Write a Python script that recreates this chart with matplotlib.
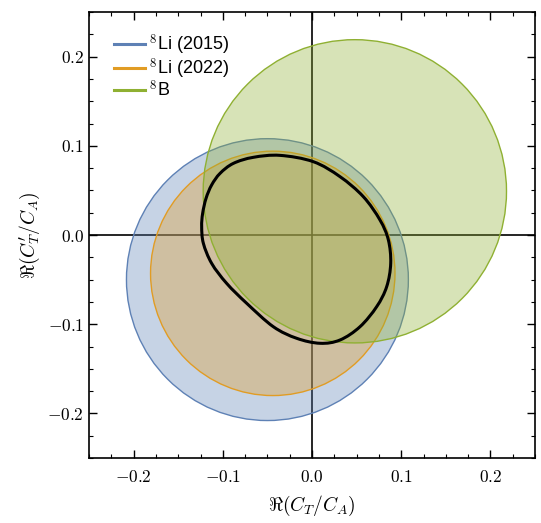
import numpy as np
import matplotlib
matplotlib.use('Agg')
import matplotlib.pyplot as plt
from matplotlib.patches import Circle, PathPatch
from matplotlib.path import Path
from matplotlib.colors import to_rgba
from matplotlib.ticker import MultipleLocator, FuncFormatter

plt.rcParams['mathtext.fontset'] = 'cm'
plt.rcParams['font.family'] = ['Liberation Sans', 'DejaVu Sans']

# circles: name, centre x, centre y, radius
names = [r'$^{\mathsf{8}}$Li (2015)', r'$^{\mathsf{8}}$Li (2022)', r'$^{\mathsf{8}}$B']
cx = [-0.050, -0.044, 0.048]
cy = [-0.050, -0.043, 0.049]
rad = [0.158, 0.137, 0.170]
cols = ['#5E81B5', '#E19C24', '#8FB032']

# combined contour
cont_x = [-0.1237, -0.1226, -0.1188, -0.1125, -0.1031, -0.0882, -0.0658, -0.0359,
          0.0015, 0.0314, 0.0575, 0.0762, 0.0856, 0.0882, 0.0837, 0.0725, 0.0538,
          0.0314, 0.0090, -0.0172, -0.0434, -0.0732, -0.0957, -0.1125, -0.1218]
cont_y = [0.0093, 0.0243, 0.0411, 0.0561, 0.0691, 0.0803, 0.0871, 0.0893,
          0.0822, 0.0654, 0.0430, 0.0168, -0.0056, -0.0318, -0.0579, -0.0803, -0.1028,
          -0.1177, -0.1214, -0.1158, -0.1028, -0.0766, -0.0542, -0.0318, -0.0093]

fig = plt.figure(figsize=(5.41, 5.23), dpi=100)
ax = fig.add_axes([0.1645, 0.1243, 0.8245, 0.8527])

ax.axhline(0, color='black', lw=1.2, zorder=1)
ax.axvline(0, color='black', lw=1.2, zorder=1)

for i in range(3):
    c = Circle((cx[i], cy[i]), rad[i], facecolor=to_rgba(cols[i], 0.35),
               edgecolor=cols[i], lw=1.0, zorder=2 + i)
    ax.add_patch(c)
    ax.plot([], [], color=cols[i], lw=2.2, label=names[i])

# closed smooth path through the contour points (catmull-rom as bezier)
P = np.column_stack([cont_x, cont_y])
n = len(P)
verts = [P[0]]
codes = [Path.MOVETO]
for i in range(n):
    p0, p1, p2, p3 = P[i - 1], P[i], P[(i + 1) % n], P[(i + 2) % n]
    verts += [p1 + (p2 - p0) / 6, p2 - (p3 - p1) / 6, p2]
    codes += [Path.CURVE4] * 3
ax.add_patch(PathPatch(Path(verts, codes), fill=False, edgecolor='black',
                       lw=2.2, zorder=6))

ax.set_xlim(-0.25, 0.25)
ax.set_ylim(-0.25, 0.25)
for a in (ax.xaxis, ax.yaxis):
    a.set_major_locator(MultipleLocator(0.1))
    a.set_minor_locator(MultipleLocator(0.025))
    a.set_major_formatter(FuncFormatter(lambda v, p: r'$%.1f$' % (0 if abs(v) < 1e-9 else v)))
ax.tick_params(which='both', direction='in', top=True, right=True, labelsize=12.5)
ax.tick_params(which='major', length=6, width=1)
ax.tick_params(which='minor', length=3, width=0.8)
ax.tick_params(axis='x', pad=8)
for s in ax.spines.values():
    s.set_linewidth(1.2)

ax.set_xlabel(r'$\Re(C_T/C_A)$', fontsize=14, labelpad=6)
ax.set_ylabel(r"$\Re(C_T'/C_A)$", fontsize=14, labelpad=4)

ax.legend(loc='upper left', frameon=False, fontsize=13, handlelength=1.7,
          handletextpad=0.25, labelspacing=-0.05, borderaxespad=0.0,
          bbox_to_anchor=(0.04, 0.97))

fig.savefig('out.png', dpi=100)
